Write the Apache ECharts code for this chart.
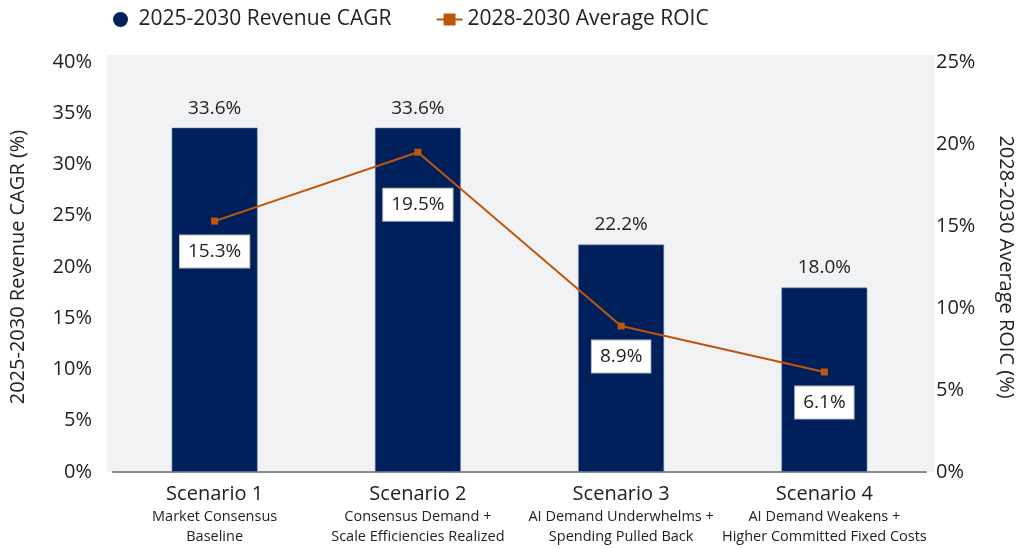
<!DOCTYPE html>
<html>
<head>
<meta charset="utf-8">
<script src="https://cdn.jsdelivr.net/npm/echarts@6/dist/echarts.min.js"></script>
<style>
  html, body { margin: 0; padding: 0; background: #fff; }
  #chart { width: 1024px; height: 549px; }
</style>
</head>
<body>
<div id="chart"></div>
<script>
// chart data
var scenarios = ['Scenario 1', 'Scenario 2', 'Scenario 3', 'Scenario 4'];
var descriptions = [
  ['Market Consensus', 'Baseline'],
  ['Consensus Demand +', 'Scale Efficiencies Realized'],
  ['AI Demand Underwhelms +', 'Spending Pulled Back'],
  ['AI Demand Weakens +', 'Higher Committed Fixed Costs']
];
var revenueCagr = [33.6, 33.6, 22.2, 18.0];
var avgRoic = [15.3, 19.5, 8.9, 6.1];

var FONT = '"Open Sans", "Noto Sans", sans-serif';
var TEXT = '#222222';

var chart = echarts.init(document.getElementById('chart'));

// the 19.5% box sits lower than the others in the original
var roicData = avgRoic.map(function (v, i) {
  if (i === 1) return { value: v, label: { distance: 33 } };
  return v;
});

var options = {
  textStyle: { fontFamily: FONT, color: TEXT },
  graphic: [{
    type: 'rect',
    left: 107,
    top: 55,
    z: -10,
    shape: { width: 828, height: 417 },
    style: { fill: '#f1f2f4' }
  }],
  legend: {
    top: 4,
    left: 108,
    itemGap: 44,
    itemWidth: 26,
    itemHeight: 15,
    textStyle: { fontSize: 21, color: TEXT, fontFamily: FONT },
    data: [
      { name: '2025-2030 Revenue CAGR', icon: 'circle', itemStyle: { borderWidth: 0 } },
      { name: '2028-2030 Average ROIC' }
    ]
  },
  grid: {
    left: 107,
    right: 89,
    top: 62,
    bottom: 77
  },
  xAxis: {
    type: 'category',
    data: scenarios,
    axisTick: { show: false },
    axisLine: { lineStyle: { color: '#8a8a8a', width: 2 } },
    axisLabel: {
      interval: 0,
      margin: 10,
      formatter: function (value, idx) {
        return '{a|' + value + '}\n{b|' + descriptions[idx][0] + '}\n{b|' + descriptions[idx][1] + '}';
      },
      rich: {
        a: { fontSize: 20, color: TEXT, fontFamily: FONT, lineHeight: 25 },
        b: { fontSize: 14.5, color: TEXT, fontFamily: FONT, lineHeight: 20 }
      }
    }
  },
  yAxis: [
    {
      type: 'value',
      min: 0,
      max: 40,
      interval: 5,
      name: '2025-2030 Revenue CAGR (%)',
      nameLocation: 'middle',
      nameGap: 85,
      nameTextStyle: { fontSize: 20, color: TEXT, fontFamily: FONT },
      splitLine: { show: false },
      axisLine: { show: false },
      axisTick: { show: false },
      axisLabel: { formatter: '{value}%', fontSize: 20, color: TEXT, margin: 21 }
    },
    {
      type: 'value',
      min: 0,
      max: 25,
      interval: 5,
      position: 'right',
      name: '2028-2030 Average ROIC (%)',
      nameLocation: 'middle',
      nameRotate: -90,
      nameGap: 70,
      nameTextStyle: { fontSize: 20, color: TEXT, fontFamily: FONT },
      splitLine: { show: false },
      axisLine: { show: false },
      axisTick: { show: false },
      axisLabel: { formatter: '{value}%', fontSize: 20, color: TEXT, margin: 10 }
    }
  ],
  series: [
    {
      name: '2025-2030 Revenue CAGR',
      type: 'bar',
      yAxisIndex: 0,
      barWidth: 86,
      itemStyle: { color: '#00205b', borderColor: '#8d9bb8', borderWidth: 0.6 },
      label: {
        show: true,
        position: 'top',
        distance: 10,
        fontSize: 19,
        color: TEXT,
        fontFamily: FONT,
        formatter: function (p) { return p.value.toFixed(1) + '%'; }
      },
      data: revenueCagr
    },
    {
      name: '2028-2030 Average ROIC',
      type: 'line',
      yAxisIndex: 1,
      symbol: 'rect',
      symbolSize: 7,
      lineStyle: { color: '#c0560c', width: 2 },
      itemStyle: { color: '#c0560c' },
      label: {
        show: true,
        position: 'bottom',
        distance: 11,
        fontSize: 19,
        lineHeight: 22,
        color: TEXT,
        fontFamily: FONT,
        backgroundColor: '#ffffff',
        borderColor: '#b8b8b8',
        borderWidth: 1,
        padding: [5, 8, 5, 8],
        formatter: function (p) { return p.value.toFixed(1) + '%'; }
      },
      z: 3,
      data: roicData
    }
  ]
};

chart.setOption(options);
</script>
</body>
</html>
